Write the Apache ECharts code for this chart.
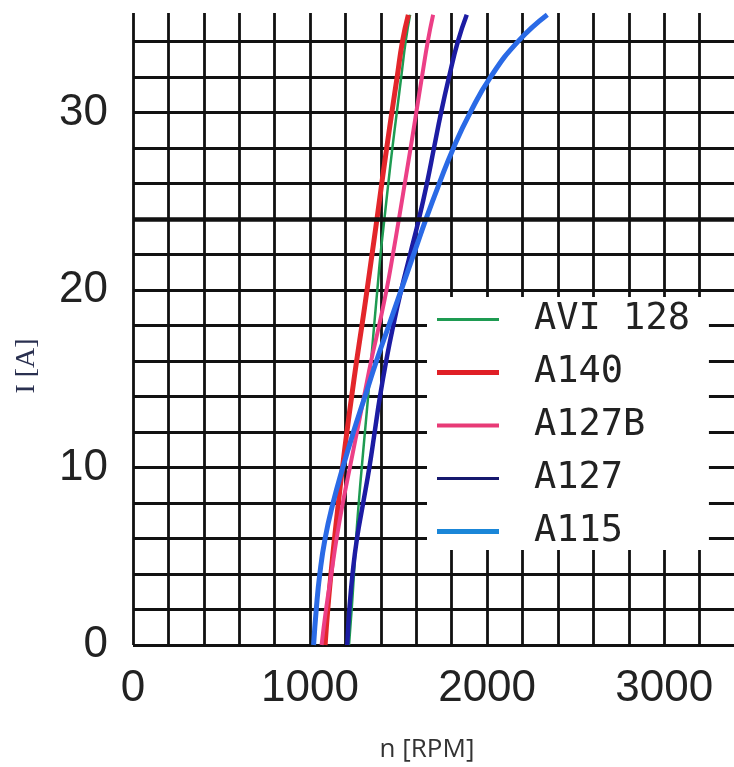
<!DOCTYPE html>
<html>
<head>
<meta charset="utf-8">
<script src="https://cdn.jsdelivr.net/npm/echarts@6/dist/echarts.min.js"></script>
<style>
html,body{margin:0;padding:0;background:#fff}
#zjt{width:734px;height:767px}
</style>
</head>
<body>
<div id="zjt"></div>
<script>
// current I [A] where the curves were read
var current = [0, 2, 4, 6, 8, 10, 12, 14, 16, 18, 20, 22, 24, 26, 28, 30, 32, 34, 35.5]
// speed n [RPM] for each motor
var avi128 = [1220, 1235, 1248, 1260, 1275, 1292, 1310, 1328, 1345, 1362, 1380, 1398, 1420, 1442, 1465, 1490, 1515, 1540, 1565]
var a140   = [1085, 1100, 1118, 1138, 1160, 1183, 1208, 1235, 1263, 1293, 1322, 1350, 1378, 1405, 1433, 1462, 1492, 1522, 1555]
var a127b  = [1065, 1090, 1120, 1150, 1185, 1225, 1265, 1305, 1345, 1390, 1432, 1468, 1502, 1535, 1568, 1600, 1632, 1665, 1695]
var a127   = [1210, 1222, 1240, 1265, 1300, 1335, 1365, 1395, 1430, 1470, 1515, 1565, 1615, 1660, 1700, 1740, 1785, 1835, 1885]
var a115   = [1020, 1035, 1055, 1085, 1130, 1185, 1245, 1310, 1375, 1445, 1515, 1585, 1655, 1730, 1810, 1905, 2020, 2175, 2340]

var names = ['AVI 128', 'A140', 'A127B', 'A127', 'A115']
var speeds = [avi128, a140, a127b, a127, a115]
var xLabels = [0, 1000, 2000, 3000]
var yLabels = [0, 10, 20, 30]

var lineColors = ['#1e9b52', '#e3262b', '#ec3f86', '#1c1ca3', '#2a6ae6']
var legendColors = ['#1e9b52', '#e01f26', '#e83a76', '#16186e', '#1a86d8']
var lineWidths = [2.5, 5, 4, 4.5, 5]

var series = names.map(function (name, i) {
    return {
        name: name,
        type: 'line',
        smooth: 0.5,
        showSymbol: false,
        color: lineColors[i],
        lineStyle: { width: lineWidths[i], color: lineColors[i] },
        data: speeds[i].map(function (n, k) { return [n, current[k]] })
    }
})
// thick grid line at 24 A
series[0].markLine = {
    silent: true,
    symbol: 'none',
    label: { show: false },
    lineStyle: { color: '#111', width: 4.5, type: 'solid' },
    data: [{ yAxis: 24 }]
}

var myChart = echarts.init(document.getElementById('zjt'))
myChart.setOption({
    backgroundColor: '#fff',
    animation: false,
    grid: { left: 133, top: 13, width: 602, height: 632, outerBoundsMode: 'none', containLabel: false },
    xAxis: {
        type: 'value',
        min: 0, max: 3400, interval: 200,
        name: 'n [RPM]',
        nameLocation: 'middle',
        nameGap: 92,
        nameTextStyle: { fontFamily: 'Open Sans', fontSize: 26, color: '#333', padding: [0, 14, 0, 0] },
        axisLine: { show: false },
        axisTick: { show: false },
        axisLabel: {
            margin: 22,
            fontFamily: 'Liberation Sans', fontSize: 44, color: '#222',
            formatter: function (v) { return xLabels.indexOf(v) >= 0 ? String(v) : '' }
        },
        splitLine: { show: true, lineStyle: { color: '#111', width: 2.8 } }
    },
    yAxis: {
        type: 'value',
        min: 0, max: 35.6, interval: 2,
        axisLine: { show: false },
        axisTick: { show: false },
        axisLabel: {
            margin: 25,
            fontFamily: 'Liberation Sans', fontSize: 44, color: '#222',
            formatter: function (v) { return yLabels.indexOf(v) >= 0 ? String(v) : '' }
        },
        splitLine: { show: true, showMaxLine: false, lineStyle: { color: '#111', width: 2.8 } }
    },
    legend: {
        orient: 'vertical',
        left: 427, top: 297,
        backgroundColor: '#fff',
        padding: [4, 19, 0, 10],
        itemWidth: 62, itemHeight: 6,
        itemGap: 16,
        textStyle: { fontFamily: 'DejaVu Sans Mono', fontSize: 37, color: '#222', padding: [0, 0, 0, 30] },
        data: names.map(function (name, i) {
            return {
                name: name,
                icon: 'path://M0,0H60V' + [3, 5, 4, 3, 5][i] + 'H0Z',
                itemStyle: { color: legendColors[i] }
            }
        })
    },
    graphic: [{
        type: 'text',
        x: 27, y: 366,
        rotation: Math.PI / 2,
        style: {
            text: 'I [A]',
            font: '28px "Liberation Serif"',
            fill: '#2a3050',
            textAlign: 'center',
            textVerticalAlign: 'middle'
        }
    }],
    series: series
})
</script>
</body>
</html>
